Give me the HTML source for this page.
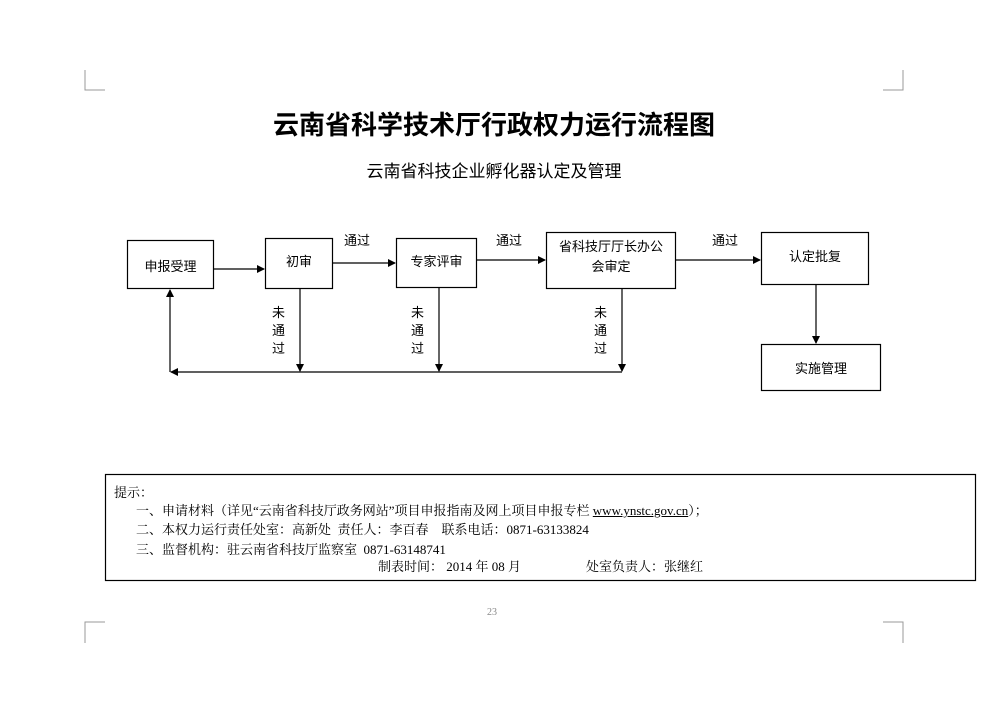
<!DOCTYPE html>
<html><head><meta charset="utf-8"><style>
body{margin:0;background:#fff;width:1008px;height:714px;overflow:hidden;position:relative;font-family:"Liberation Sans","Noto Sans CJK SC",sans-serif;color:#000}
.a{position:absolute;white-space:nowrap}
.t{font-family:"Liberation Serif","Noto Serif CJK SC",serif;font-size:13px}
</style></head><body>
<svg width="1008" height="714" style="position:absolute;left:0;top:0">
<defs><marker id="m" markerWidth="8" markerHeight="8" refX="7" refY="4" orient="auto" markerUnits="userSpaceOnUse"><path d="M0,0L8,4L0,8z" fill="#000"/></marker></defs>
<g stroke="#999" fill="none" stroke-width="1">
<path d="M85,70V90H105"/><path d="M903,70V90H883"/><path d="M85,643V622H105"/><path d="M903,643V622H883"/>
</g>
<g stroke="#000" fill="none" stroke-width="1.2">
<rect x="127.5" y="240.5" width="86" height="48"/>
<rect x="265.5" y="238.5" width="67" height="50"/>
<rect x="396.5" y="238.5" width="80" height="49"/>
<rect x="546.5" y="232.5" width="129" height="56"/>
<rect x="761.5" y="232.5" width="107" height="52"/>
<rect x="761.5" y="344.5" width="119" height="46"/>
<rect x="105.5" y="474.5" width="870" height="106"/>
<path d="M213,269H264" marker-end="url(#m)"/>
<path d="M332,263H395" marker-end="url(#m)"/>
<path d="M477,260H545" marker-end="url(#m)"/>
<path d="M676,260H760" marker-end="url(#m)"/>
<path d="M816,285V343" marker-end="url(#m)"/>
<path d="M300,289V371" marker-end="url(#m)"/>
<path d="M439,288V371" marker-end="url(#m)"/>
<path d="M622,289V371" marker-end="url(#m)"/>
<path d="M622,372H171" marker-end="url(#m)"/>
<path d="M170,372V290" marker-end="url(#m)"/>
</g>
</svg>
<div class="a" style="left:0;width:988px;text-align:center;top:105px;font-size:26px;font-weight:bold">云南省科学技术厅行政权力运行流程图</div>
<div class="a" style="left:0;width:988px;text-align:center;top:157px;font-size:17px">云南省科技企业孵化器认定及管理</div>
<div class="a" style="left:127px;width:87px;text-align:center;top:256px;font-size:13px">申报受理</div>
<div class="a" style="left:265px;width:68px;text-align:center;top:251px;font-size:13px">初审</div>
<div class="a" style="left:396px;width:81px;text-align:center;top:251px;font-size:13px">专家评审</div>
<div class="a" style="left:546px;width:130px;text-align:center;top:237px;font-size:13px;white-space:normal;line-height:20px;padding:0 8px;box-sizing:border-box">省科技厅厅长办公会审定</div>
<div class="a" style="left:761px;width:108px;text-align:center;top:246px;font-size:13px">认定批复</div>
<div class="a" style="left:761px;width:120px;text-align:center;top:358px;font-size:13px">实施管理</div>
<div class="a" style="left:344px;top:230px;font-size:13px">通过</div>
<div class="a" style="left:496px;top:230px;font-size:13px">通过</div>
<div class="a" style="left:712px;top:230px;font-size:13px">通过</div>
<div class="a" style="left:272px;top:304px;font-size:13px;line-height:18px;white-space:normal;width:14px">未通过</div>
<div class="a" style="left:411px;top:304px;font-size:13px;line-height:18px;white-space:normal;width:14px">未通过</div>
<div class="a" style="left:594px;top:304px;font-size:13px;line-height:18px;white-space:normal;width:14px">未通过</div>
<div class="a t" style="left:114px;top:482px">提示：</div>
<div class="a t" style="left:136px;top:500px">一、申请材料（详见“云南省科技厅政务网站”项目申报指南及网上项目申报专栏 <u>www.ynstc.gov.cn</u>）；</div>
<div class="a t" style="left:136px;top:519px">二、本权力运行责任处室：高新处&nbsp; 责任人：李百春&nbsp;&nbsp;&nbsp; 联系电话：0871-63133824</div>
<div class="a t" style="left:136px;top:539px">三、监督机构：驻云南省科技厅监察室&nbsp; 0871-63148741</div>
<div class="a t" style="left:378px;top:556px">制表时间： 2014 年 08 月</div>
<div class="a t" style="left:586px;top:556px">处室负责人：张继红</div>
<div class="a" style="left:487px;top:607px;font-size:10px;color:#888;font-family:'Liberation Serif',serif">23</div>
</body></html>
